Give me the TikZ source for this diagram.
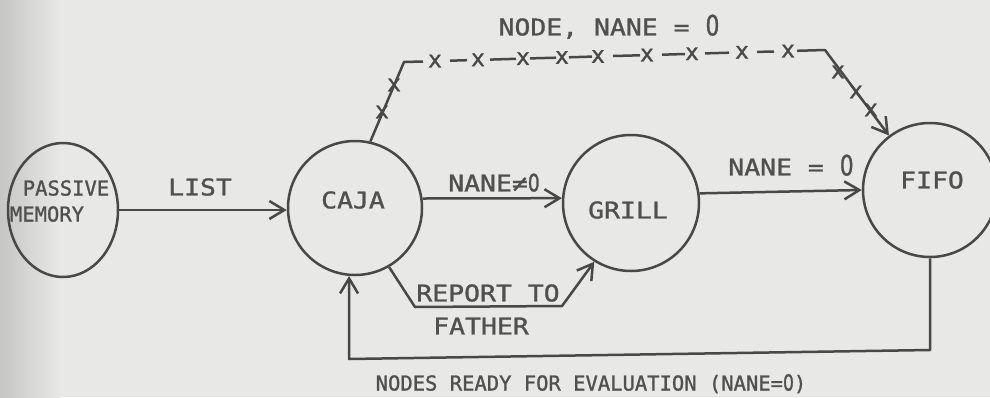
\documentclass[tikz,border=0pt]{standalone}
\usepackage{fontspec}
\usetikzlibrary{arrows.meta,shapes.geometric}
% lettering: stretched mono for labels, plain mono for the long caption
\newfontfamily\widefont[FakeStretch=1.15,FakeBold=1.2]{DejaVu Sans Mono}
\newfontfamily\narrowfont[FakeBold=1.2]{DejaVu Sans Mono}
\newfontfamily\zerofont[FakeStretch=0.78,FakeBold=1.2]{DejaVu Sans}
\newcommand{\zro}[1]{{\zerofont\fontsize{#1}{#1}\selectfont 0}}
\definecolor{paper}{HTML}{E8E8E6}
\definecolor{paperedge}{HTML}{C6C6C4}
\definecolor{ink}{HTML}{484848}
\definecolor{txt}{HTML}{505050}

\begin{document}
\begin{tikzpicture}[x=1pt,y=-1pt,
  inkline/.style={draw=ink, line width=2.5pt, line join=round},
  arr/.style={inkline, -{Straight Barb[length=15pt,width=18pt]}},
  state/.style={circle, inkline, minimum size=134pt, inner sep=0pt},
  wlab/.style={font=\widefont\fontsize{23}{27}\selectfont, text=txt,
    inner sep=0pt, text height=16.8pt, text depth=0pt},
  nlab/.style={font=\narrowfont\fontsize{20.5}{24}\selectfont, text=txt,
    inner sep=0pt, text height=15pt, text depth=0pt},
  xmark/.style={font=\narrowfont\fontsize{23}{23}\selectfont, text=ink,
    inner sep=0pt}]

% paper
\path[use as bounding box] (0,0) rectangle (990,397);
\fill[paper] (0,0) rectangle (990,397);
\shade[left color=paperedge, right color=paper] (0,0) rectangle (60,397);

% states
\node[ellipse, inkline, minimum width=110pt, minimum height=134pt, inner sep=0pt]
  (pm) at (63,210) {};
\node[state] (caja)  at (355,208) {};
\node[state, minimum size=136pt] (grill) at (631,203) {};
\node[state] (fifo)  at (930,190) {};

% state names
\node[nlab] (pmA) at (66,188) {PASSIVE};
\node[nlab] (pmB) at (47,214) {MEMORY};
\node[wlab] (cajaT)  at (353,200) {CAJA};
\node[wlab] (grillT) at (628,210) {GRILL};
\node[wlab] (fifoT)  at (932,180) {FIFO};

% plain transitions
\draw[arr] (pm.east) -- (caja.west |- pm.east);
\node[wlab] (listT) at (200,187) {LIST};

\draw[arr] (caja.8) -- (grill.176);
\node[wlab] (neT) at (494,183) {NANE≠\zro{24}};

\draw[arr] (grill.8) -- (fifo.west);
\node[wlab] (eqT) at (791,167) {NANE = \zro{28}};

% report to father
\coordinate (rp1) at (415,307);
\coordinate (rp2) at (562,306);
\draw[arr] (caja.-60) -- (rp1) -- (rp2) -- (grill.238);
\node[wlab] (rpA) at (488,293) {REPORT TO};
\node[wlab] (rpB) at (481,326) {FATHER};

% feedback loop
\coordinate (lb1) at (930,350);
\coordinate (lb2) at (349,359);
\draw[arr] (fifo.south) -- (lb1) -- (lb2) -- (caja.-95);
\node[nlab] (loopT) at (591,383) {NODES READY FOR EVALUATION (NANE=\zro{22})};

% broken "x" line over the top
\coordinate (tc1) at (404,62);
\coordinate (tc2) at (825,50);
\draw[arr] (caja.77) -- (tc1) -- (423,61.5)
  (450,60.7) -- (467,60.2)
  (490,59.6) -- (516,58.8)
  (530,58.4) -- (556,57.7)
  (569,57.3) -- (592,56.6)
  (613,56.0) -- (640,55.3)
  (662,54.7) -- (685,54.0)
  (705,53.4) -- (729,52.7)
  (757,51.9) -- (774,51.5)
  (797,50.8) -- (tc2) -- (fifo.127);
\foreach \px/\py [count=\i] in {435/61.1, 478/59.9, 523/58.6, 562/57.5, 598/56.5,
    647/55.1, 692/53.8, 742/52.4, 788/51.1, 382/112, 394/85, 838/72, 856/92, 871/110}
  \node[xmark] (xm\i) at (\px,\py) {x};
\node[wlab] (topT) at (609,27) {NODE, NANE = \zro{28}};

\end{tikzpicture}
\end{document}
